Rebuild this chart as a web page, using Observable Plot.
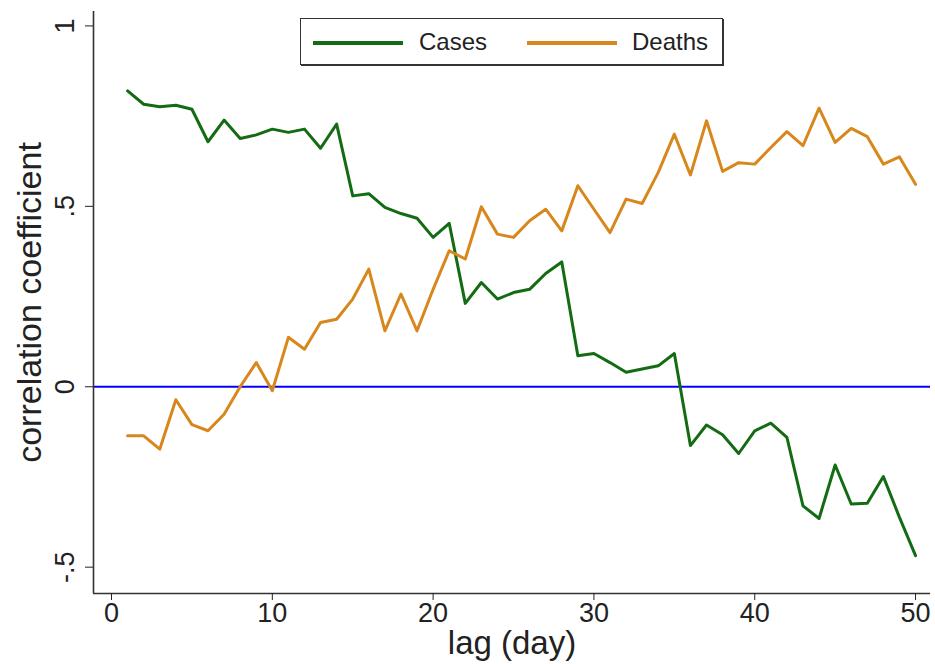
<!DOCTYPE html>
<html>
<head>
<meta charset="utf-8">
<script src="https://cdn.jsdelivr.net/npm/d3@7"></script>
<script src="https://cdn.jsdelivr.net/npm/@observablehq/plot@0.6"></script>
<style>
  html, body { margin: 0; padding: 0; background: #fff; }
  #wrap { position: relative; width: 935px; height: 664px; font-family: "Liberation Sans", Arial, sans-serif; }
  #wrap svg { font-family: "Liberation Sans", Arial, sans-serif; }
  g[aria-label="x-axis tick label"] { font-size: 27px; }
  g[aria-label="y-axis tick label"] { font-size: 27px; }
  g[aria-label="x-axis label"] { font-size: 33px; }
  g[aria-label="y-axis label"] { font-size: 34px; }
  #legend { position: absolute; left: 300px; top: 18px; width: 421px; height: 45px;
            border: 1.5px solid #333; box-shadow: 1px 1px 0 #333; background: #fff; font-size: 24px; color: #222; }
  #legend .sw { position: absolute; top: 22px; height: 4px; width: 90px; }
  #legend .lb { position: absolute; top: 9px; line-height: 28px; }
</style>
</head>
<body>
<div id="wrap">
  <div id="chart"></div>
  <div id="legend"></div>
</div>
<script>
const lag = [1,2,3,4,5,6,7,8,9,10,11,12,13,14,15,16,17,18,19,20,21,22,23,24,25,26,27,28,29,30,31,32,33,34,35,36,37,38,39,40,41,42,43,44,45,46,47,48,49,50];
const cases = [0.82,0.783,0.776,0.78,0.769,0.679,0.739,0.688,0.698,0.714,
               0.705,0.714,0.661,0.728,0.529,0.535,0.497,0.48,0.467,0.414,
               0.453,0.231,0.289,0.243,0.261,0.27,0.314,0.346,0.086,0.092,
               0.067,0.04,0.049,0.058,0.092,-0.163,-0.106,-0.133,-0.185,-0.122,
               -0.101,-0.14,-0.33,-0.365,-0.217,-0.325,-0.323,-0.249,-0.362,-0.468];
const deaths = [-0.136,-0.136,-0.173,-0.036,-0.105,-0.122,-0.076,0.0,0.067,-0.011,
                0.137,0.104,0.178,0.187,0.243,0.326,0.155,0.257,0.155,0.27,
                0.377,0.354,0.499,0.423,0.414,0.46,0.492,0.432,0.557,0.492,
                0.427,0.52,0.508,0.594,0.7,0.587,0.737,0.597,0.621,0.617,
                0.663,0.707,0.668,0.772,0.677,0.716,0.693,0.617,0.637,0.561];
const seriesNames = ["Cases", "Deaths"];
const seriesColors = ["#136c13", "#d8871d"];
const xTicks = [0, 10, 20, 30, 40, 50];
const yTicks = [-0.5, 0, 0.5, 1];
const yTickLabels = ["-.5", "0", ".5", "1"];
const xDomain = [-1.12, 50.93];
const yDomain = [-0.573, 1.04];
const refLine = [0];

const data = [
  ...cases.map((v, i) => ({lag: lag[i], value: v, series: seriesNames[0]})),
  ...deaths.map((v, i) => ({lag: lag[i], value: v, series: seriesNames[1]}))
];

const chart = Plot.plot({
  width: 935,
  height: 664,
  marginLeft: 93,
  marginRight: 5,
  marginTop: 11,
  marginBottom: 71,
  style: {color: "#222", background: "#fff"},
  x: {domain: xDomain},
  y: {domain: yDomain},
  color: {domain: seriesNames, range: seriesColors},
  marks: [
    Plot.ruleY(refLine, {stroke: "#0000ff", strokeWidth: 2.2}),
    Plot.line(data, {x: "lag", y: "value", z: "series", stroke: "series", strokeWidth: 3, strokeLinejoin: "round"}),
    Plot.ruleX([xDomain[0]], {stroke: "#333", strokeWidth: 1.6}),
    Plot.ruleY([yDomain[0]], {stroke: "#333", strokeWidth: 1.6}),
    Plot.axisX({ticks: xTicks, tickSize: 7, tickPadding: 2, tickFormat: d => String(d),
                label: "lag (day)", labelArrow: "none", labelAnchor: "center", labelOffset: 60}),
    Plot.axisY({ticks: yTicks, tickSize: 8, tickPadding: 12, tickRotate: -90, textAnchor: "middle",
                tickFormat: d => yTickLabels[yTicks.indexOf(d)],
                label: "correlation coefficient", labelArrow: "none", labelAnchor: "center", labelOffset: 77})
  ]
});
document.getElementById("chart").appendChild(chart);

const legend = document.getElementById("legend");
const pos = [{sw: 12, lb: 118}, {sw: 226, lb: 331}];
seriesNames.forEach((name, i) => {
  const sw = document.createElement("div");
  sw.className = "sw";
  sw.style.left = pos[i].sw + "px";
  sw.style.background = seriesColors[i];
  legend.appendChild(sw);
  const lb = document.createElement("div");
  lb.className = "lb";
  lb.style.left = pos[i].lb + "px";
  lb.textContent = name;
  legend.appendChild(lb);
});
</script>
</body>
</html>
